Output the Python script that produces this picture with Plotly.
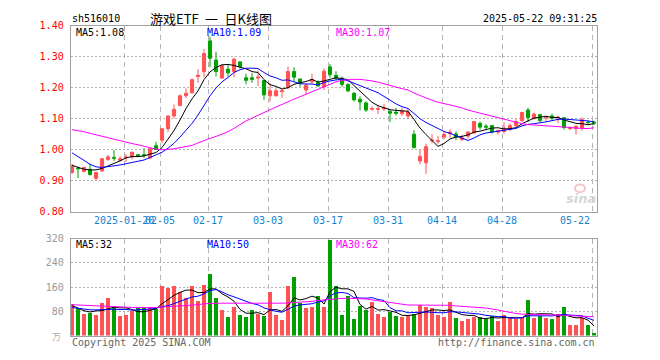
import plotly.graph_objects as go

# ---------------- data ----------------
dates = ["01-07","01-08","01-09","01-10","01-13","01-14","01-15","01-16","01-17",
         "01-20","01-21","01-22","01-23","01-24","01-27",
         "02-05","02-06","02-07","02-10","02-11","02-12","02-13","02-14",
         "02-17","02-18","02-19","02-20","02-21","02-24","02-25","02-26","02-27","02-28",
         "03-03","03-04","03-05","03-06","03-07","03-10","03-11","03-12","03-13","03-14",
         "03-17","03-18","03-19","03-20","03-21","03-24","03-25","03-26","03-27","03-28",
         "03-31","04-01","04-02","04-03","04-07","04-08","04-09","04-10","04-11",
         "04-14","04-15","04-16","04-17","04-18","04-21","04-22","04-23","04-24","04-25",
         "04-28","04-29","04-30","05-06","05-07","05-08","05-09","05-12","05-13","05-14",
         "05-15","05-16","05-19","05-20","05-21","05-22"]

open_ = [0.927,0.941,0.930,0.937,0.908,0.932,0.969,0.975,0.966,0.974,0.977,0.984,0.984,0.974,1.013,
         1.031,1.068,1.109,1.143,1.174,1.184,1.236,1.252,1.351,1.289,1.231,1.260,1.252,1.283,1.232,
         1.232,1.231,1.223,1.174,1.174,1.188,1.201,1.252,1.228,1.193,1.219,1.217,1.203,1.267,1.240,
         1.231,1.210,1.182,1.163,1.151,1.131,1.131,1.132,1.123,1.121,1.117,1.109,1.050,0.964,0.958,
         1.029,1.027,1.041,1.052,1.051,1.033,1.044,1.054,1.085,1.076,1.078,1.057,1.059,1.066,1.078,
         1.094,1.128,1.101,1.113,1.103,1.109,1.103,1.103,1.068,1.068,1.070,1.089,1.089]
high = [0.955,0.945,0.945,0.955,0.927,0.973,0.984,0.999,0.979,0.986,0.993,0.986,1.005,1.005,1.026,
        1.068,1.110,1.146,1.178,1.198,1.230,1.260,1.325,1.365,1.316,1.275,1.276,1.297,1.286,1.245,
        1.247,1.255,1.225,1.216,1.198,1.195,1.268,1.266,1.230,1.214,1.245,1.224,1.262,1.276,1.253,
        1.236,1.214,1.186,1.172,1.156,1.139,1.141,1.148,1.132,1.135,1.135,1.132,1.063,1.000,1.019,
        1.050,1.044,1.059,1.066,1.059,1.049,1.060,1.091,1.091,1.083,1.078,1.065,1.089,1.085,1.099,
        1.122,1.135,1.120,1.115,1.109,1.117,1.109,1.105,1.075,1.078,1.104,1.094,1.094]
low = [0.922,0.909,0.927,0.917,0.901,0.928,0.964,0.964,0.962,0.961,0.969,0.977,0.974,0.969,0.999,
       1.021,1.057,1.101,1.140,1.167,1.180,1.216,1.234,1.266,1.236,1.228,1.236,1.234,1.262,1.211,
       1.216,1.205,1.161,1.155,1.172,1.167,1.195,1.219,1.203,1.180,1.214,1.203,1.193,1.232,1.226,
       1.203,1.186,1.156,1.127,1.122,1.126,1.115,1.125,1.089,1.111,1.109,1.101,1.005,0.953,0.922,
       1.021,1.019,1.034,1.039,1.031,1.028,1.036,1.052,1.065,1.065,1.052,1.049,1.052,1.060,1.073,
       1.089,1.089,1.097,1.089,1.091,1.096,1.086,1.065,1.063,1.049,1.061,1.083,1.080]
close = [0.948,0.939,0.943,0.920,0.927,0.971,0.977,0.973,0.971,0.976,0.992,0.979,0.982,1.003,1.001,
         1.068,1.109,1.130,1.174,1.182,1.226,1.240,1.310,1.295,1.252,1.271,1.248,1.292,1.268,1.224,
         1.227,1.234,1.177,1.190,1.190,1.191,1.252,1.234,1.214,1.208,1.227,1.206,1.253,1.243,1.231,
         1.211,1.190,1.161,1.154,1.128,1.133,1.132,1.135,1.118,1.118,1.125,1.122,1.007,0.979,1.010,
         1.031,1.029,1.049,1.057,1.041,1.038,1.057,1.091,1.073,1.073,1.057,1.061,1.070,1.078,1.091,
         1.120,1.104,1.115,1.094,1.105,1.102,1.105,1.072,1.071,1.076,1.097,1.088,1.086]

ma5 = [0.950,0.943,0.937,0.935,0.935,0.940,0.948,0.954,0.964,0.974,0.978,0.978,0.980,0.986,0.991,
       1.007,1.033,1.062,1.096,1.133,1.164,1.190,1.226,1.251,1.265,1.274,1.275,1.272,1.266,1.261,
       1.252,1.249,1.226,1.210,1.204,1.196,1.200,1.211,1.216,1.220,1.227,1.218,1.222,1.227,1.232,
       1.229,1.226,1.207,1.189,1.169,1.153,1.142,1.136,1.129,1.127,1.126,1.124,1.098,1.070,1.049,
       1.030,1.011,1.020,1.035,1.041,1.043,1.048,1.057,1.060,1.066,1.070,1.071,1.067,1.068,1.071,
       1.084,1.093,1.102,1.105,1.108,1.104,1.104,1.096,1.091,1.085,1.084,1.081,1.084]
ma10 = [0.990,0.979,0.966,0.953,0.945,0.943,0.945,0.948,0.951,0.955,0.959,0.963,0.967,0.975,0.983,
        0.992,1.005,1.021,1.041,1.062,1.085,1.112,1.144,1.174,1.199,1.219,1.233,1.249,1.258,1.263,
        1.263,1.262,1.249,1.238,1.232,1.224,1.225,1.219,1.213,1.212,1.212,1.209,1.217,1.222,1.226,
        1.228,1.222,1.214,1.208,1.200,1.191,1.184,1.172,1.159,1.148,1.139,1.133,1.117,1.100,1.088,
        1.078,1.067,1.059,1.053,1.045,1.036,1.030,1.038,1.048,1.054,1.057,1.060,1.062,1.064,1.069,
        1.077,1.082,1.084,1.086,1.090,1.094,1.098,1.099,1.098,1.096,1.094,1.093,1.090]
ma30 = [1.065,1.062,1.058,1.053,1.048,1.043,1.038,1.033,1.028,1.024,1.020,1.016,1.011,1.006,1.002,
        1.000,1.001,1.003,1.007,1.010,1.014,1.022,1.030,1.037,1.043,1.050,1.058,1.069,1.081,1.093,
        1.102,1.112,1.120,1.129,1.138,1.145,1.154,1.163,1.171,1.179,1.187,1.194,1.203,1.211,1.219,
        1.224,1.226,1.227,1.227,1.225,1.222,1.218,1.212,1.206,1.202,1.197,1.193,1.183,1.174,1.167,
        1.160,1.153,1.149,1.145,1.140,1.135,1.128,1.123,1.119,1.114,1.108,1.104,1.097,1.092,1.087,
        1.084,1.081,1.080,1.078,1.077,1.076,1.075,1.073,1.072,1.070,1.069,1.068,1.071]

volume = [104,91,71,75,67,109,125,93,64,67,80,91,91,93,88,
          163,157,163,143,125,163,115,166,202,125,83,62,96,67,62,
          83,71,64,144,69,53,163,195,109,91,93,131,96,315,163,
          67,131,54,99,86,112,70,62,77,64,62,67,72,100,94,
          90,67,62,111,58,48,55,62,62,55,64,48,69,59,55,
          62,119,59,66,59,55,72,96,34,36,59,36,7]
vol_ma5 = [99,91,82,78,81.6,82.6,89.4,93.8,91.6,91.6,85.8,79.0,78.6,84.4,88.6,
           105.2,118.4,132.8,142.8,150.2,150.2,141.8,142.4,154.2,154.2,138.2,127.6,113.6,86.6,74.0,
           74.0,75.8,69.4,84.8,86.2,80.2,98.6,124.8,117.8,122.2,130.2,123.8,104.0,145.2,159.6,
           154.4,154.4,146.0,102.8,87.4,96.4,84.2,85.8,81.4,77.0,67.0,66.4,68.4,73.0,79.0,
           84.6,84.6,82.6,84.8,77.6,69.2,66.8,66.8,57.0,56.4,59.6,58.2,59.6,59.0,59.0,
           58.6,72.8,70.8,72.2,73.0,71.6,62.2,69.6,63.2,58.6,59.4,51.0,32.0]
vol_ma10 = [93,90,87,85,85,86,87,87,86,86.6,84.2,84.2,86.2,88.0,90.1,
            95.5,98.7,105.7,113.6,119.4,127.7,130.1,137.6,148.5,152.2,144.2,134.7,128.0,120.4,114.1,
            106.1,101.7,91.5,85.7,80.1,77.1,87.2,97.1,101.3,104.2,105.2,111.2,114.4,131.5,140.9,
            142.3,139.1,125.0,124.0,123.5,125.4,119.3,115.9,92.1,82.2,81.7,75.3,77.1,77.2,78.0,
            75.8,75.5,75.5,78.9,78.3,76.9,75.7,74.7,70.9,67.0,64.4,62.5,63.2,58.0,57.7,
            59.1,65.5,65.2,65.6,66.0,65.1,67.5,70.2,67.7,65.8,65.5,57.2,50.5]
vol_ma30 = [102,101,100,98,97,96,95,95,94,94,93,93,92,92,93,
            94,95,96,97,98,99,102,105,107,107,107,107,106,106,105,
            105,105,105,105,106,107,108,109,110,111,113,116,118,121,123,
            123,123,123,123,121,118,115,112,109,105,102,101,101,101,101,
            101,101,101,100,98,97,96,94,93,91,88,84,80,77,73,
            71,70,69,69,68,68,68,67,67,66,65,64,62]

date_ticks = ["01-20","02-05","02-17","03-03","03-17","03-31","04-14","04-28","05-22"]
date_tick_text = ["2025-01-20","02-05","02-17","03-03","03-17","03-31","04-14","04-28","05-22"]
price_ticks = [0.80, 0.90, 1.00, 1.10, 1.20, 1.30, 1.40]
vol_ticks = [80, 160, 240, 320]
price_legend = ["MA5:1.08", "MA10:1.09", "MA30:1.07"]
vol_legend = ["MA5:32", "MA10:50", "MA30:62"]
title_text = "游戏ETF\u2002一\u2002日K线图"
code_text = "sh516010"
time_text = "2025-05-22 09:31:25"

# ---------------- styling ----------------
W, H = 660, 360
RED, GREEN = "#ff5252", "#00a000"
MA_COLORS = ["#000000", "#0000ff", "#ff00ff"]
BORDER = "#a0a0a0"
GRID = "#b4b4b4"
MONO = "DejaVu Sans Mono"
L, R = 70.7, 597.0

def px(x):
    return x / W

def py(y):
    return 1 - y / H

idx = list(range(len(dates)))
tick_pos = [dates.index(d) - 0.33 for d in date_ticks]
vol_colors = [RED if c >= o else GREEN for o, c in zip(open_, close)]

fig = go.Figure()

fig.add_trace(go.Candlestick(
    x=idx, open=open_, high=high, low=low, close=close,
    increasing=dict(line=dict(color=RED, width=1), fillcolor=RED),
    decreasing=dict(line=dict(color=GREEN, width=1), fillcolor=GREEN),
    whiskerwidth=0, xaxis="x", yaxis="y", hoverinfo="skip"))

for series, col in zip([ma5, ma10, ma30], MA_COLORS):
    fig.add_trace(go.Scatter(x=idx, y=series, mode="lines",
                             line=dict(color=col, width=1), xaxis="x", yaxis="y",
                             hoverinfo="skip"))

fig.add_trace(go.Bar(x=idx, y=volume, marker=dict(color=vol_colors, line=dict(width=0)),
                     width=0.7, xaxis="x2", yaxis="y2", hoverinfo="skip"))
for series, col in zip([vol_ma5, vol_ma10, vol_ma30], MA_COLORS):
    fig.add_trace(go.Scatter(x=idx, y=series, mode="lines",
                             line=dict(color=col, width=1), xaxis="x2", yaxis="y2",
                             hoverinfo="skip"))

xr = [-0.22, 87.5]
common_x = dict(range=xr, showline=True, mirror=True, linecolor=BORDER, linewidth=1,
                tickvals=tick_pos, ticktext=[""] * len(tick_pos), ticks="",
                showgrid=True, gridcolor=GRID, griddash="5px,4px", gridwidth=1,
                zeroline=False, fixedrange=True)
fig.update_layout(
    width=W, height=H, margin=dict(l=0, r=0, t=0, b=0),
    paper_bgcolor="white", plot_bgcolor="white", showlegend=False,
    bargap=0, boxgap=0.25,
    xaxis=dict(domain=[px(L), px(R)], anchor="y", rangeslider=dict(visible=False), **common_x),
    xaxis2=dict(domain=[px(L), px(R)], anchor="y2", **common_x),
    yaxis=dict(domain=[py(212.3), py(20.3)], range=[0.80, 1.40], tickvals=price_ticks,
               ticktext=[f"{v:.2f}" for v in price_ticks], ticks="", ticklabelstandoff=4,
               tickfont=dict(family=MONO, size=10, color="#ff0000"),
               showline=True, mirror=True, linecolor=BORDER, linewidth=1,
               showgrid=True, gridcolor=GRID, griddash="2px,2px", zeroline=False, fixedrange=True),
    yaxis2=dict(domain=[py(340), py(240)], range=[0, 320], tickvals=vol_ticks,
                ticktext=[str(v) for v in vol_ticks], ticks="", ticklabelstandoff=4,
                tickfont=dict(family=MONO, size=10, color="#999999"),
                showline=True, mirror=True, linecolor=BORDER, linewidth=1,
                showgrid=True, gridcolor=GRID, griddash="2px,2px", zeroline=False, fixedrange=True),
)

ann = []
# date labels
for i, (p, t) in enumerate(zip(tick_pos, date_tick_text)):
    last = i == len(tick_pos) - 1
    ann.append(dict(x=p, y=py(221.7), xref="x", yref="paper", text=t, showarrow=False,
                    xanchor="right" if last else "center", yanchor="middle",
                    font=dict(family=MONO, size=10, color="#1582d0")))
# header
ann.append(dict(x=px(70), y=py(12.5), xref="paper", yref="paper", text=code_text, showarrow=False,
                xanchor="left", yanchor="middle", font=dict(family=MONO, size=10, color="#000")))
ann.append(dict(x=px(211), y=py(12.5), xref="paper", yref="paper", text=title_text, showarrow=False,
                xanchor="center", yanchor="middle",
                font=dict(family="Noto Sans CJK SC", size=13, color="#000")))
ann.append(dict(x=px(599), y=py(12.5), xref="paper", yref="paper", text=time_text, showarrow=False,
                xanchor="right", yanchor="middle", font=dict(family=MONO, size=10, color="#000")))
# MA legends
for t, xx, col in zip(price_legend, [74, 205, 334], MA_COLORS):
    ann.append(dict(x=px(xx), y=py(27), xref="paper", yref="paper", text=t, showarrow=False,
                    xanchor="left", yanchor="middle", font=dict(family=MONO, size=10, color=col)))
for t, xx, col in zip(vol_legend, [74, 205, 334], MA_COLORS):
    ann.append(dict(x=px(xx), y=py(246.5), xref="paper", yref="paper", text=t, showarrow=False,
                    xanchor="left", yanchor="middle", font=dict(family=MONO, size=10, color=col)))
# unit + footer
ann.append(dict(x=px(63), y=py(341), xref="paper", yref="paper", text="万", showarrow=False,
                xanchor="right", yanchor="middle",
                font=dict(family="Noto Sans CJK SC", size=9, color="#b0b0b0")))
ann.append(dict(x=px(70), y=py(347), xref="paper", yref="paper", text="Copyright 2025 SINA.COM",
                showarrow=False, xanchor="left", yanchor="middle",
                font=dict(family=MONO, size=10, color="#666666")))
ann.append(dict(x=px(597), y=py(347), xref="paper", yref="paper", text="http://finance.sina.com.cn",
                showarrow=False, xanchor="right", yanchor="middle",
                font=dict(family=MONO, size=10, color="#666666")))
# watermark
ann.append(dict(x=px(581), y=py(199), xref="paper", yref="paper", text="<b><i>sina</i></b>",
                showarrow=False, xanchor="center", yanchor="middle",
                font=dict(family="DejaVu Sans", size=13, color="#d6d6d6")))
fig.update_layout(annotations=ann)
fig.add_shape(type="circle", xref="paper", yref="paper",
              x0=px(575), x1=px(585), y0=py(192), y1=py(184),
              line=dict(color="#f4c4c4", width=2), fillcolor="rgba(0,0,0,0)")

fig.write_html("out.html",
               config={"displayModeBar": False, "staticPlot": True},
               post_script="document.body.style.margin='0';document.body.style.padding='0';"
                           "document.documentElement.style.overflow='hidden';")
